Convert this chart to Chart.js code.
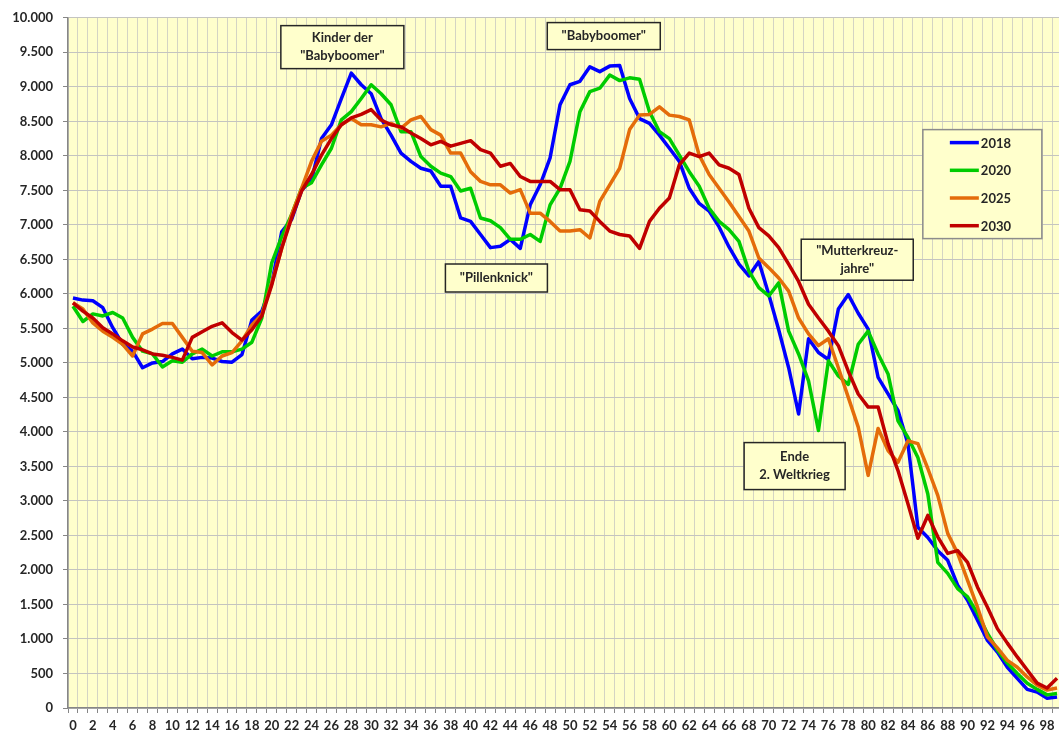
<!DOCTYPE html>
<html>
<head>
<meta charset="utf-8">
<title>Altersstruktur 2018 - 2030</title>
<script src="https://cdn.jsdelivr.net/npm/chart.js@4.4.1/dist/chart.umd.min.js"></script>
<style>
    html, body {
        margin: 0;
        padding: 0;
        background: #ffffff;
        overflow: hidden;
    }
</style>
</head>
<body>

<canvas id="grafik" width="1070" height="738"></canvas>

<script>

// Alter 0 - 99
const alter = Array.from({length:100}, (_,i) => String(i));

const jahre = ["2018", "2020", "2025", "2030"];

const werte2018 = [
    5940, 5910, 5900, 5800, 5510, 5270, 5170, 4930, 5000, 5020,
    5130, 5200, 5060, 5080, 5070, 5020, 5010, 5120, 5620, 5750,
    6150, 6900, 7080, 7500, 7650, 8250, 8450, 8830, 9200, 9030,
    8900, 8540, 8300, 8040, 7920, 7820, 7780, 7560, 7560, 7100,
    7050, 6860, 6670, 6690, 6790, 6660, 7290, 7580, 7970, 8740,
    9030, 9080, 9290, 9220, 9300, 9310, 8830, 8540, 8470, 8300,
    8110, 7920, 7530, 7310, 7200, 6970, 6680, 6430, 6260, 6470,
    5990, 5480, 4930, 4260, 5350, 5150, 5050, 5780, 5990, 5720,
    5490, 4790, 4550, 4310, 3830, 2620, 2470, 2280, 2140, 1780,
    1560, 1270, 980, 810, 590, 430, 270, 230, 140, 160
];

const werte2020 = [
    5820, 5600, 5710, 5680, 5730, 5650, 5370, 5170, 5130, 4940,
    5030, 5010, 5130, 5200, 5100, 5160, 5160, 5200, 5300, 5650,
    6450, 6830, 7150, 7530, 7610, 7870, 8110, 8520, 8640, 8830,
    9030, 8900, 8740, 8350, 8350, 7990, 7850, 7750, 7700, 7490,
    7530, 7100, 7060, 6960, 6790, 6790, 6860, 6760, 7290, 7530,
    7920, 8640, 8930, 8980, 9170, 9090, 9130, 9110, 8640, 8350,
    8250, 8010, 7770, 7560, 7240, 7050, 6930, 6760, 6330, 6090,
    5970, 6160, 5460, 5130, 4740, 4020, 5030, 4810, 4690, 5270,
    5460, 5130, 4840, 4160, 3920, 3630, 3100, 2110, 1950, 1730,
    1610, 1370, 1080, 840, 650, 500, 360, 270, 190, 210
];

const werte2025 = [
    5870, 5780, 5580, 5460, 5370, 5270, 5100, 5420, 5490, 5570,
    5570, 5370, 5170, 5150, 4970, 5100, 5150, 5320, 5550, 5700,
    6160, 6660, 7150, 7530, 7920, 8210, 8300, 8450, 8540, 8450,
    8450, 8420, 8470, 8400, 8520, 8570, 8380, 8300, 8040, 8040,
    7770, 7630, 7580, 7580, 7460, 7510, 7170, 7170, 7050, 6910,
    6910, 6930, 6810, 7340, 7580, 7820, 8380, 8590, 8600, 8710,
    8590, 8570, 8520, 8010, 7730, 7530, 7330, 7120, 6910, 6520,
    6380, 6230, 6040, 5650, 5420, 5250, 5350, 4930, 4500, 4070,
    3370, 4050, 3730, 3560, 3870, 3830, 3470, 3080, 2530, 2240,
    1850, 1460, 1030, 870, 690, 590, 450, 330, 260, 290
];

const werte2030 = [
    5870, 5750, 5650, 5510, 5420, 5320, 5230, 5190, 5130, 5110,
    5080, 5040, 5370, 5450, 5530, 5580, 5440, 5330, 5480, 5680,
    6130, 6660, 7100, 7490, 7730, 8010, 8250, 8450, 8550, 8600,
    8670, 8520, 8450, 8420, 8330, 8250, 8160, 8210, 8140, 8180,
    8220, 8090, 8040, 7850, 7890, 7700, 7630, 7630, 7630, 7510,
    7510, 7220, 7200, 7050, 6910, 6860, 6840, 6660, 7050, 7240,
    7390, 7870, 8040, 7990, 8040, 7870, 7820, 7730, 7240, 6960,
    6840, 6670, 6430, 6180, 5850, 5650, 5460, 5250, 4880, 4550,
    4360, 4360, 3830, 3440, 2960, 2460, 2790, 2480, 2240, 2280,
    2110, 1750, 1460, 1150, 940, 740, 550, 360, 290, 430
];

const farben = ["#0000ff", "#00cc00", "#e46c0a", "#c00000"];

// Hinweise im Diagramm (Alter, Wert = Mitte des Kastens)
const hinweise = [
    {text:["Kinder der", "\"Babyboomer\""], alter:27.1, wert:9575, b:123, h:43},
    {text:["\"Babyboomer\""], alter:53.4, wert:9735, b:113, h:27},
    {text:["\"Pillenknick\""], alter:42.6, wert:6230, b:102, h:28},
    {text:["\"Mutterkreuz-", "jahre\""], alter:78.9, wert:6495, b:112, h:41},
    {text:["Ende", "2. Weltkrieg"], alter:72.6, wert:3505, b:101, h:47}
];

const familie = "Lato, 'Open Sans', sans-serif";
const schrift = "bold 13px " + familie;
const textFarbe = "#262626";

function tausender(v){
    return String(v).replace(/\B(?=(\d{3})+(?!\d))/g, ".");
}

// gelber Hintergrund der Zeichenfläche
const hintergrund = {
    id: "hintergrund",
    beforeDraw(chart){
        const {ctx, chartArea} = chart;
        ctx.save();
        ctx.fillStyle = "#ffffcc";
        ctx.fillRect(
            chartArea.left, chartArea.top,
            chartArea.right - chartArea.left,
            chartArea.bottom - chartArea.top
        );
        ctx.restore();
    }
};

function kasten(ctx, x, y, b, h, rand){
    ctx.fillStyle = "#ffffcc";
    ctx.fillRect(x, y, b, h);
    ctx.strokeStyle = rand;
    ctx.lineWidth = 1.5;
    ctx.strokeRect(x, y, b, h);
}

// Hinweiskästen + Legende
const beschriftung = {
    id: "beschriftung",
    afterDraw(chart){

        const ctx = chart.ctx;
        const sx = chart.scales.x;
        const sy = chart.scales.y;

        ctx.save();
        ctx.font = schrift;
        ctx.textAlign = "center";
        ctx.textBaseline = "middle";

        hinweise.forEach(n => {

            const mx = sx.getPixelForValue(n.alter);
            const my = sy.getPixelForValue(n.wert);

            kasten(ctx, mx - n.b/2, my - n.h/2, n.b, n.h, "#262626");

            ctx.fillStyle = textFarbe;
            const start = my - (n.text.length - 1) * 9;
            n.text.forEach((zeile, i) => {
                ctx.fillText(zeile, mx, start + i * 18);
            });
        });

        // Legende
        const lx = sx.getPixelForValue(85.5);
        const ly = sy.getPixelForValue(8380);

        kasten(ctx, lx, ly, 119, 109, "#8c8c8c");

        ctx.textAlign = "left";
        chart.data.datasets.forEach((ds, i) => {

            const y = ly + 13 + i * 27.7;

            ctx.strokeStyle = ds.borderColor;
            ctx.lineWidth = 3.5;
            ctx.beginPath();
            ctx.moveTo(lx + 27, y);
            ctx.lineTo(lx + 56, y);
            ctx.stroke();

            ctx.fillStyle = textFarbe;
            ctx.fillText(ds.label, lx + 58, y + 1);
        });

        ctx.restore();
    }
};

const reihen = [werte2018, werte2020, werte2025, werte2030];

new Chart(document.getElementById("grafik"), {

    type: "line",

    data: {
        labels: alter,
        datasets: jahre.map((j, i) => ({
            label: j,
            data: reihen[i],
            borderColor: farben[i],
            backgroundColor: farben[i],
            borderWidth: 3.5,
            pointRadius: 0,
            tension: 0,
            borderJoinStyle: "round",
            order: jahre.length - i
        }))
    },

    options: {
        responsive: false,
        animation: false,
        layout: {
            padding: {top: 12, right: 8, left: 0, bottom: 0}
        },
        plugins: {
            legend: {display: false},
            tooltip: {enabled: false}
        },
        scales: {
            x: {
                type: "category",
                offset: true,
                grid: {
                    offset: true,
                    color: "#d4d4c4",
                    tickColor: "#868686",
                    tickLength: 5
                },
                border: {color: "#868686", width: 1.5},
                ticks: {
                    autoSkip: false,
                    maxRotation: 0,
                    padding: 5,
                    color: textFarbe,
                    font: {family: familie, size: 13, weight: "bold"},
                    callback: function(val, i){
                        return i % 2 === 0 ? this.getLabelForValue(val) : "";
                    }
                },
                afterFit: s => { s.height = 30; }
            },
            y: {
                min: 0,
                max: 10000,
                ticks: {
                    stepSize: 500,
                    padding: 10,
                    color: textFarbe,
                    font: {family: familie, size: 13, weight: "bold"},
                    callback: v => tausender(v)
                },
                grid: {
                    color: "#c4c4c0",
                    tickColor: "#868686",
                    tickLength: 5
                },
                border: {color: "#868686", width: 1.5},
                afterFit: s => { s.width = 68; }
            }
        }
    },

    plugins: [hintergrund, beschriftung]
});

</script>
</body>
</html>
